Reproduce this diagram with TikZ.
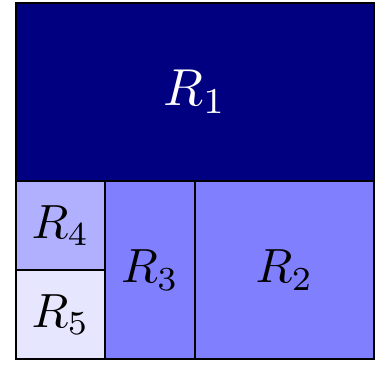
\documentclass[tikz,border=0pt]{standalone}
\begin{document}
\begin{tikzpicture}[x=1pt,y=-1pt,
  region/.style={draw=black,line width=1.6pt},
  lbl/.style={inner sep=0pt}]
\useasboundingbox (0,0) rectangle (376,365);
\definecolor{rnavy}{RGB}{0,0,128}
\definecolor{rmid}{RGB}{128,128,255}
\definecolor{rlight}{RGB}{176,176,255}
\definecolor{rpale}{RGB}{230,230,255}
\path[region,fill=rnavy] (16,3) rectangle (374,181) node[midway,lbl,text=white] (r1) {\scalebox{5.2}{$R_1$}};
\path[region,fill=rmid] (195,181) rectangle (374,359) node[midway,lbl] (r2) {\scalebox{4.8}{$R_2$}};
\path[region,fill=rmid] (105,181) rectangle (195,359) node[midway,lbl] (r3) {\scalebox{4.8}{$R_3$}};
\path[region,fill=rlight] (16,181) rectangle (105,270) node[midway,lbl] (r4) {\scalebox{4.8}{$R_4$}};
\path[region,fill=rpale] (16,270) rectangle (105,359) node[midway,lbl] (r5) {\scalebox{4.8}{$R_5$}};
\end{tikzpicture}
\end{document}
